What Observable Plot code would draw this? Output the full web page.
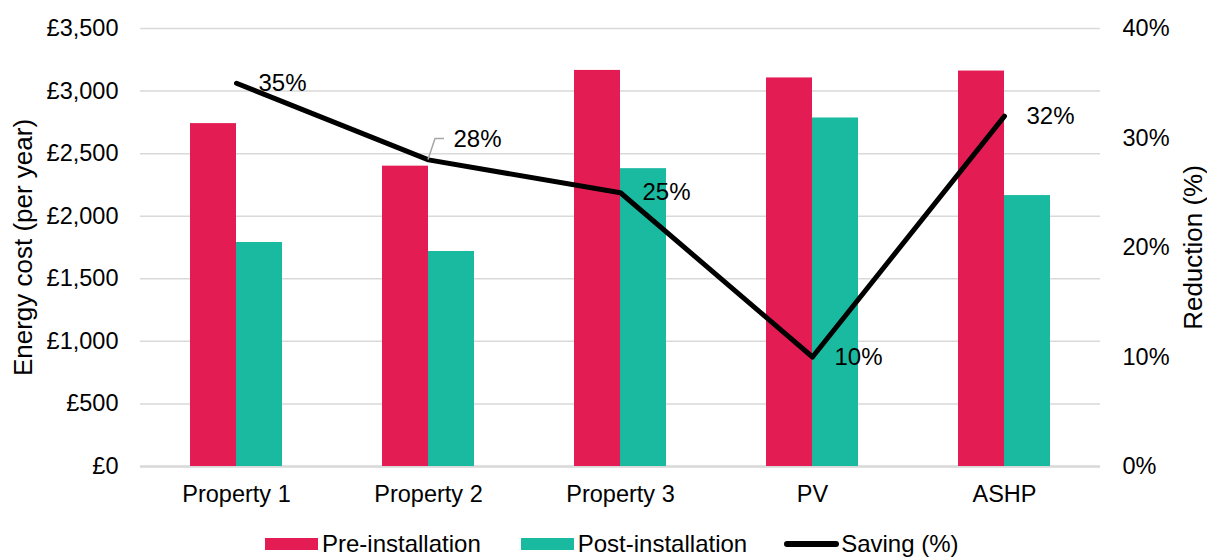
<!DOCTYPE html>
<html>
<head>
<meta charset="utf-8">
<script src="https://cdn.jsdelivr.net/npm/d3@7"></script>
<script src="https://cdn.jsdelivr.net/npm/@observablehq/plot@0.6"></script>
<style>
  body { margin: 0; background: #fff; font-family: "Liberation Sans", Arial, sans-serif; }
  #legend { display: flex; align-items: center; height: 28px; padding-left: 265px; font-size: 24px; color: #000; }
  #legend .item { display: flex; align-items: center; }
  #legend .swatch { width: 53px; height: 12px; margin-right: 4px; }
  #legend .lineswatch { width: 55px; height: 6px; border-radius: 3px; background: #000; margin-right: 2px; }
</style>
</head>
<body>
<div id="chart"></div>
<div id="legend"></div>
<script>
// Annual energy cost before and after installation, with the percentage saving
const categories = ["Property 1", "Property 2", "Property 3", "PV", "ASHP"];
const preInstallation = [2740, 2400, 3165, 3105, 3160];
const postInstallation = [1790, 1718, 2380, 2785, 2165];
const savingPercent = [35, 28, 25, 10, 32];
const costTicks = [0, 500, 1000, 1500, 2000, 2500, 3000, 3500];
const percentTicks = [0, 10, 20, 30, 40];

const PRE_COLOR = "#e31d54";
const POST_COLOR = "#1abaa1";

// The percentage axis is drawn on the cost scale: 0–40% maps onto £0–£3,500
const COST_MAX = 3500, PCT_MAX = 40;
const toCost = p => p * COST_MAX / PCT_MAX;

const rows = categories.map((category, i) => ({
  category,
  pre: preInstallation[i],
  post: postInstallation[i],
  saving: savingPercent[i]
}));

const HALF_BAND = 46;

// Leader from the Property 2 point to its lifted label
function leader(index, scales) {
  const i = categories.indexOf("Property 2");
  const bw = scales.scales && scales.scales.x && scales.scales.x.bandwidth != null
    ? scales.scales.x.bandwidth
    : (scales.x.bandwidth ? scales.x.bandwidth() : 0);
  const x = scales.x(categories[i]) + bw / 2;
  const y = scales.y(toCost(savingPercent[i]));
  const path = document.createElementNS("http://www.w3.org/2000/svg", "path");
  path.setAttribute("d", `M${x},${y}L${x + 7},${y - 21}H${x + 16}`);
  path.setAttribute("fill", "none");
  path.setAttribute("stroke", "#a6a6a6");
  path.setAttribute("stroke-width", "1.5");
  return path;
}

const chart = Plot.plot({
  width: 1207,
  height: 530,
  marginTop: 28,
  marginBottom: 64,
  marginLeft: 140,
  marginRight: 107,
  style: { fontFamily: "'Liberation Sans', Arial, sans-serif", fontSize: "23.5px", color: "#000", background: "#fff" },
  x: { type: "band", domain: categories, paddingInner: 0.52, paddingOuter: 0.26, label: null },
  y: { domain: [0, COST_MAX], label: null },
  marks: [
    Plot.gridY(costTicks, { stroke: "#d9d9d9", strokeOpacity: 1, strokeWidth: 1.5 }),
    Plot.ruleY([0], { stroke: "#d9d9d9", strokeWidth: 2.5 }),
    Plot.barY(rows, { x: "category", y: "pre", fill: PRE_COLOR, insetRight: HALF_BAND }),
    Plot.barY(rows, { x: "category", y: "post", fill: POST_COLOR, insetLeft: HALF_BAND }),
    Plot.axisY({ ticks: costTicks, tickFormat: d => "£" + d3.format(",")(d), tickSize: 0, tickPadding: 22, label: null }),
    Plot.axisY({ anchor: "right", ticks: percentTicks.map(toCost), tickFormat: d => Math.round(d / COST_MAX * PCT_MAX) + "%", tickSize: 0, tickPadding: 22, label: null }),
    Plot.axisX({ tickSize: 0, tickPadding: 19, label: null }),
    Plot.line(rows, { x: "category", y: d => toCost(d.saving), stroke: "#000", strokeWidth: 5, strokeLinejoin: "round", strokeLinecap: "round" }),
    Plot.text(rows.filter(d => d.category !== "Property 2"), { x: "category", y: d => toCost(d.saving), text: d => d.saving + "%", textAnchor: "start", dx: 22, fill: "#000", fontSize: 24 }),
    Plot.text(rows.filter(d => d.category === "Property 2"), { x: "category", y: d => toCost(d.saving), text: d => d.saving + "%", textAnchor: "start", dx: 25, dy: -21, fill: "#000", fontSize: 24 }),
    leader,
    Plot.text(["Energy cost (per year)"], { frameAnchor: "left", textAnchor: "middle", rotate: -90, dx: -117, fill: "#000", fontSize: 26 }),
    Plot.text(["Reduction (%)"], { frameAnchor: "right", textAnchor: "middle", rotate: -90, dx: 93, fill: "#000", fontSize: 26 })
  ]
});
document.getElementById("chart").appendChild(chart);

// Legend below the chart
const legendItems = [
  { label: "Pre-installation", kind: "swatch", color: PRE_COLOR, gap: 40 },
  { label: "Post-installation", kind: "swatch", color: POST_COLOR, gap: 37 },
  { label: "Saving (%)", kind: "line", color: "#000", gap: 0 }
];
const legend = document.getElementById("legend");
for (const item of legendItems) {
  const el = document.createElement("div");
  el.className = "item";
  el.style.marginRight = item.gap + "px";
  const sw = document.createElement("div");
  sw.className = item.kind === "line" ? "lineswatch" : "swatch";
  if (item.kind !== "line") sw.style.background = item.color;
  const tx = document.createElement("span");
  tx.textContent = item.label;
  el.appendChild(sw);
  el.appendChild(tx);
  legend.appendChild(el);
}
</script>
</body>
</html>
